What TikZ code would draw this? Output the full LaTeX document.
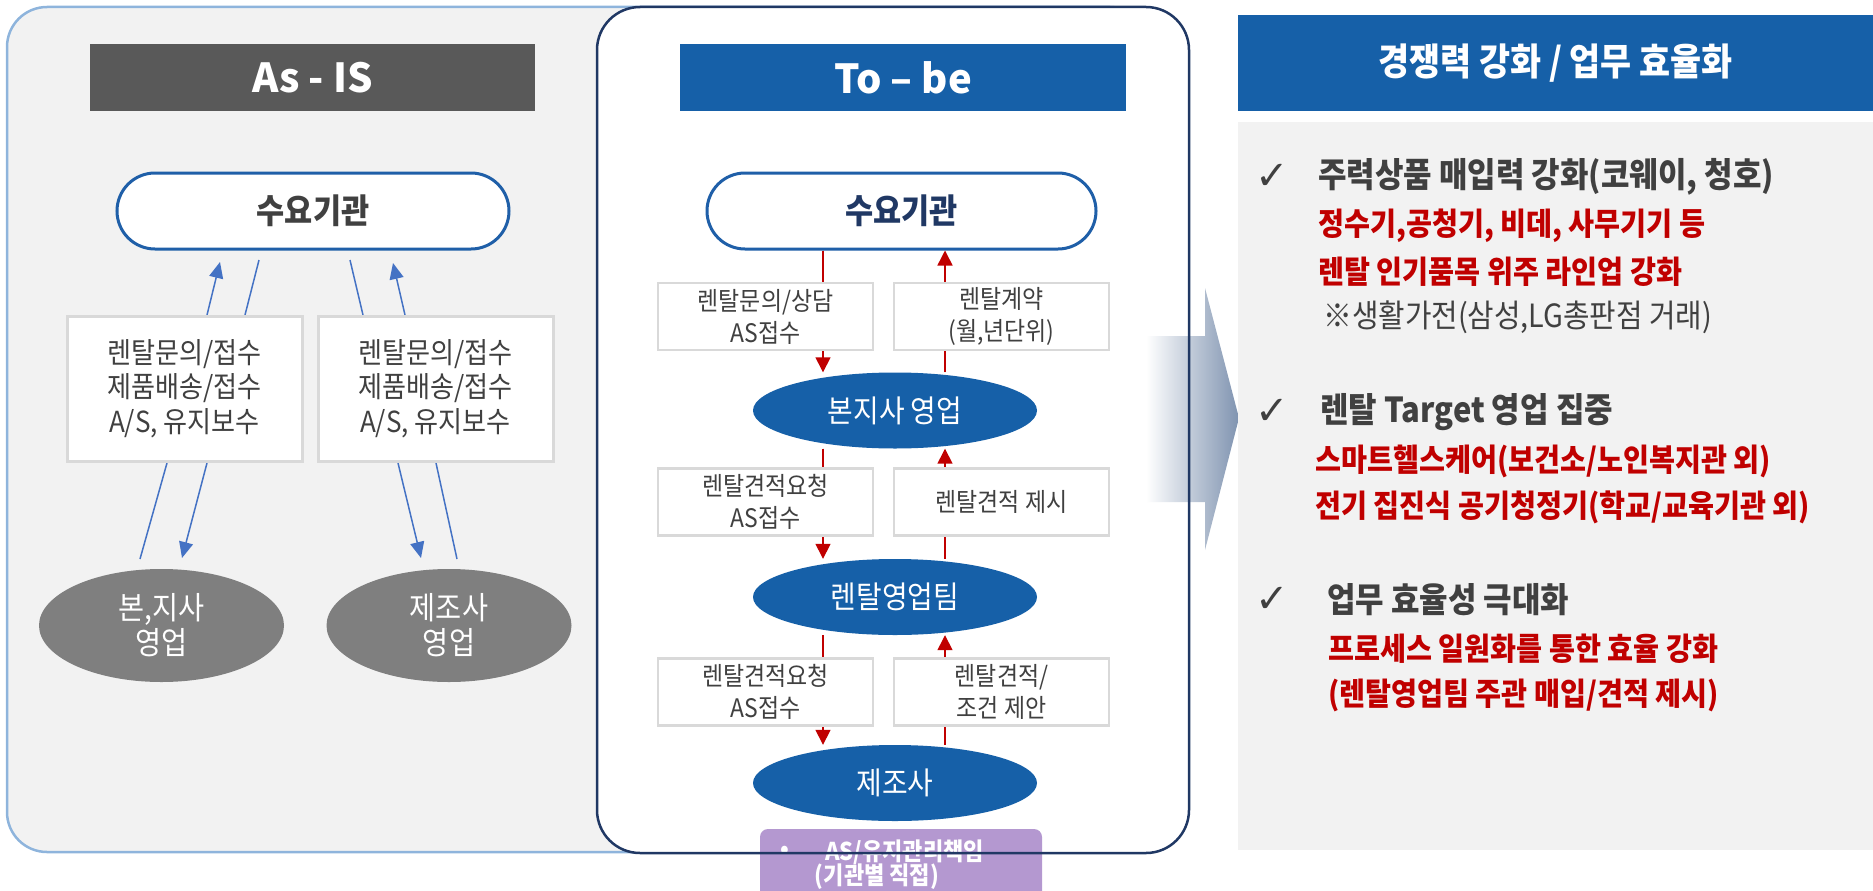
\documentclass[tikz,border=0pt]{standalone}
\usepackage{fontspec}
\setmainfont{Noto Sans CJK KR}[FakeStretch=0.9]
\newfontfamily\hdrfont{Noto Sans CJK KR}
\newfontfamily\chkfont{DejaVu Sans}
\usetikzlibrary{shapes.geometric,arrows.meta}
\definecolor{panelgray}{HTML}{F2F2F2}
\definecolor{asisline}{HTML}{8EB4DC}
\definecolor{hdrgray}{HTML}{595959}
\definecolor{pillblue}{HTML}{1F5FA8}
\definecolor{txtgray}{HTML}{404040}
\definecolor{boxline}{HTML}{D9D9D9}
\definecolor{ellgray}{HTML}{7F7F7F}
\definecolor{arrblue}{HTML}{4472C4}
\definecolor{tobeblue}{HTML}{1660A8}
\definecolor{navy}{HTML}{203864}
\definecolor{redc}{HTML}{C00000}
\definecolor{purp}{RGB}{180,152,208}
\definecolor{arrowc}{HTML}{7F93B0}
\begin{document}
\begin{tikzpicture}[x=1pt,y=-1pt,
  hdr/.style={inner sep=0, minimum height=67, text=white, font=\hdrfont\fontsize{40}{48}\selectfont\bfseries},
  pill/.style={draw=pillblue, line width=3, fill=white, rounded corners=38, minimum height=76, inner sep=0, font=\fontsize{34}{40}\selectfont\bfseries},
  abox/.style={draw=boxline, line width=3, fill=white, minimum width=235, minimum height=145, inner sep=0, align=center, text=txtgray, font=\fontsize{29}{34.5}\selectfont},
  tbox/.style={draw=boxline, line width=2.5, fill=white, minimum width=215, minimum height=67, inner sep=0, align=center, text=txtgray, font=\fontsize{25.5}{32}\selectfont},
  gell/.style={ellipse, fill=ellgray, minimum width=245, minimum height=113, inner sep=0, align=center, text=white, font=\fontsize{31.5}{35}\selectfont},
  bell/.style={ellipse, fill=tobeblue, minimum width=284, minimum height=76, inner sep=0, text=white, font=\fontsize{31}{36}\selectfont},
  barr/.style={draw=arrblue, line width=1.5},
  barrh/.style={draw=arrblue, line width=1.5, -{Triangle[length=16,width=14]}, fill=arrblue},
  rarr/.style={draw=redc, line width=1.5, -{Triangle[length=15,width=15]}, fill=redc},
  ptxt/.style={inner sep=0, text=white, font=\fontsize{24.5}{28}\selectfont\bfseries},
  ttl/.style={anchor=west, inner sep=0, text=txtgray, font=\fontsize{34.4}{40}\selectfont\bfseries},
  red/.style={anchor=west, inner sep=0, text=redc, font=\fontsize{31.4}{36}\selectfont\bfseries},
  note/.style={anchor=west, inner sep=0, text=txtgray, font=\fontsize{32}{36}\selectfont},
  chk/.style={inner sep=0, text=txtgray, font=\chkfont\fontsize{40}{44}\selectfont}
]
\useasboundingbox (0,0) rectangle (1873,891);
% ---------- As-IS panel ----------
\draw[draw=asisline, line width=2.5, fill=panelgray, rounded corners=40] (7,7) rectangle (1150,852);
\node[hdr, fill=hdrgray, minimum width=445] (hA) at (312.5,77.5) {As - IS};
\node[pill, minimum width=392, text=txtgray] (pA) at (313,211) {수요기관};
\coordinate (a1s) at (207,315); \coordinate (a1e) at (220,262);
\coordinate (a2s) at (245,315); \coordinate (a2e) at (259,260);
\coordinate (a3s) at (350,260); \coordinate (a3e) at (363,315);
\coordinate (a4s) at (405,315); \coordinate (a4e) at (393,263);
\coordinate (a5s) at (167,463); \coordinate (a5e) at (140,559);
\coordinate (a6s) at (207,463); \coordinate (a6e) at (182,558);
\coordinate (a7s) at (398,463); \coordinate (a7e) at (421,558);
\coordinate (a8s) at (436,463); \coordinate (a8e) at (457,559);
\draw[barrh] (a1s) -- (a1e);
\draw[barr] (a2s) -- (a2e);
\draw[barr] (a3s) -- (a3e);
\draw[barrh] (a4s) -- (a4e);
\draw[barr] (a5s) -- (a5e);
\draw[barrh] (a6s) -- (a6e);
\draw[barrh] (a7s) -- (a7e);
\draw[barr] (a8s) -- (a8e);
\node[abox] (b1) at (184.5,388.5) {렌탈문의/접수\\제품배송/접수\\A/S, 유지보수};
\node[abox] (b2) at (435.5,388.5) {렌탈문의/접수\\제품배송/접수\\A/S, 유지보수};
\node[gell] (g1) at (161.5,625.5) {본,지사\\영업};
\node[gell] (g2) at (449,625.5) {제조사\\영업};
% ---------- To-be panel ----------
\fill[white, rounded corners=43] (597,7) rectangle (1189,853);
\shade[left color=white, right color=arrowc] (1146,336) -- (1205,336) -- (1205,288) -- (1239,418) -- (1205,550) -- (1205,502) -- (1146,502) -- cycle;
\node[hdr, fill=tobeblue, minimum width=446] (hT) at (903,77.5) {To – be};
\node[pill, minimum width=389, text=navy] (pT) at (901.5,211) {수요기관};
\node[bell] (e1) at (895,410.5) {본지사 영업};
\node[bell] (e2) at (895,597) {렌탈영업팀};
\node[bell] (e3) at (895,783) {제조사};
\coordinate (dl) at (823,0);
\coordinate (ul) at (945,0);
\draw[rarr] (dl |- pT.south) -- (dl |- e1.north);
\draw[rarr] (ul |- e1.north) -- (ul |- pT.south);
\draw[rarr] (dl |- e1.south) -- (dl |- e2.north);
\draw[rarr] (ul |- e2.north) -- (ul |- e1.south);
\draw[rarr] (dl |- e2.south) -- (dl |- e3.north);
\draw[rarr] (ul |- e3.north) -- (ul |- e2.south);
\node[tbox] (tb1) at (765.5,316.5) {렌탈문의/상담\\AS접수};
\node[tbox] (tb2) at (1001.5,316.5) {렌탈계약\\(월,년단위)};
\node[tbox] (tb3) at (765.5,502) {렌탈견적요청\\AS접수};
\node[tbox] (tb4) at (1001.5,502) {렌탈견적 제시};
\node[tbox] (tb5) at (765.5,692) {렌탈견적요청\\AS접수};
\node[tbox] (tb6) at (1001.5,692) {렌탈견적/\\조건 제안};
\node[fill=purp, rounded corners=8, minimum width=282, minimum height=71, inner sep=0] (pb) at (901,864.5) {};
\node[ptxt] (pbul) at (785,852) {•};
\node[ptxt] (pt1) at (904.5,852) {AS/유지관리책임};
\node[ptxt] (pt2) at (877,877) {(기관별 직접)};
\draw[draw=navy, line width=2.5, rounded corners=43] (597,7) rectangle (1189,853);
% ---------- Right panel ----------
\node[fill=tobeblue, minimum width=635, minimum height=96, inner sep=0, text=white, font=\fontsize{37.5}{42}\selectfont\bfseries] (hR) at (1555.5,63) {경쟁력 강화 / 업무 효율화};
\fill[panelgray] (1238,122) rectangle (1873,850);
\node[chk] (c1) at (1272,177) {✓};
\node[ttl] (t1) at (1318,177) {주력상품 매입력 강화(코웨이, 청호)};
\node[red] (r11) at (1318,226) {정수기,공청기, 비데, 사무기기 등};
\node[red] (r12) at (1318,272) {렌탈 인기품목 위주 라인업 강화};
\node[note] (n1) at (1323,317) {※생활가전(삼성,LG총판점 거래)};
\node[chk] (c2) at (1272,412) {✓};
\node[ttl] (t2) at (1320,412) {렌탈 Target 영업 집중};
\node[red] (r21) at (1315,461) {스마트헬스케어(보건소/노인복지관 외)};
\node[red] (r22) at (1315,507) {전기 집진식 공기청정기(학교/교육기관 외)};
\node[chk] (c3) at (1272,600) {✓};
\node[ttl] (t3) at (1327,600) {업무 효율성 극대화};
\node[red] (r31) at (1328,649) {프로세스 일원화를 통한 효율 강화};
\node[red] (r32) at (1328,695) {(렌탈영업팀 주관 매입/견적 제시)};
\end{tikzpicture}
\end{document}
